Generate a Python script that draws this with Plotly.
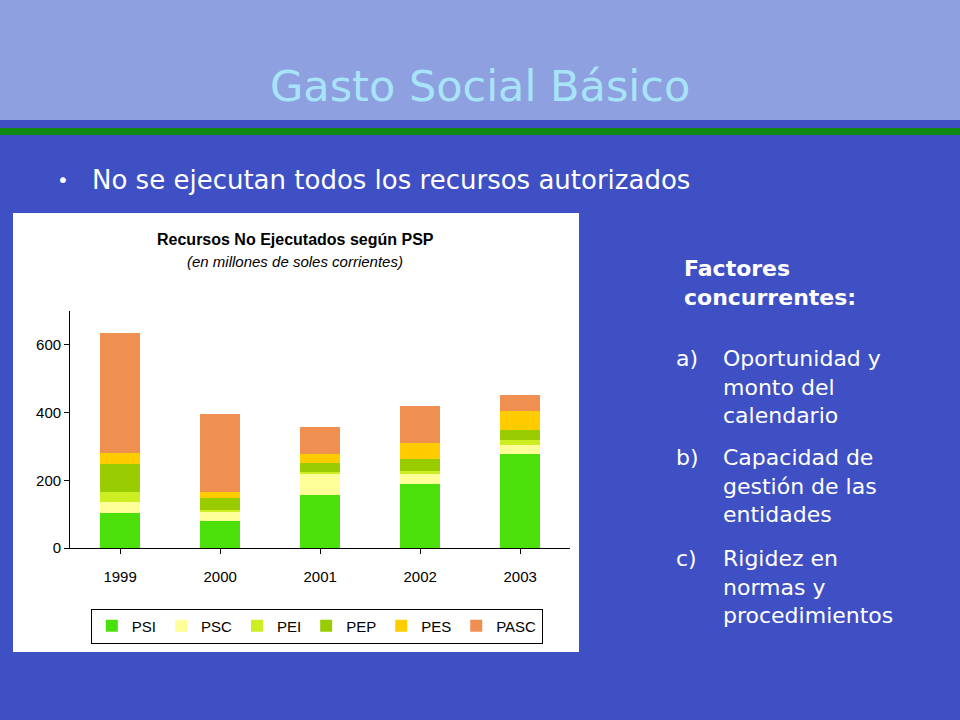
import plotly.graph_objects as go

years = ["1999", "2000", "2001", "2002", "2003"]
psi = [104, 80, 158, 188, 279]
psc = [32, 29, 62, 31, 26]
pei = [30, 2, 4, 8, 15]
pep = [83, 37, 28, 37, 30]
pes = [32, 18, 27, 47, 54]
pasc = [353, 231, 79, 107, 47]

series = [("PSI", psi, "#4ce00a"), ("PSC", psc, "#ffff99"), ("PEI", pei, "#ccee22"),
          ("PEP", pep, "#99cc00"), ("PES", pes, "#ffcc00"), ("PASC", pasc, "#f09050")]

H = 712  # effective page height in the screenshot


def fy(px):
    return 1 - px / H


fig = go.Figure()
for name, vals, col in series:
    fig.add_trace(go.Bar(x=years, y=vals, name=name, marker_color=col,
                         marker_line_width=0, width=0.4))

fig.update_layout(
    width=960, height=720, barmode="stack",
    paper_bgcolor="#3f4fc4", plot_bgcolor="white",
    margin=dict(l=0, r=0, t=0, b=0),
    font=dict(family="Arial, Liberation Sans", color="black", size=14),
    xaxis=dict(domain=[0.073, 0.594], showline=True, linecolor="black",
               ticks="outside", tickcolor="black", ticklen=5, tickfont=dict(size=15),
               ticklabelstandoff=10),
    yaxis=dict(domain=[fy(548), fy(311)], range=[0, 700], tickvals=[0, 200, 400, 600],
               showline=True, linecolor="black", ticks="outside", tickcolor="black",
               ticklen=5, showgrid=False, zeroline=False, tickfont=dict(size=15)),
    legend=dict(orientation="h", x=0.33, xanchor="center", y=fy(626), yanchor="middle",
                bgcolor="white", bordercolor="black", borderwidth=1,
                font=dict(size=15), traceorder="normal", itemwidth=30),
    shapes=[
        dict(type="rect", xref="paper", yref="paper", x0=0, x1=1, y0=fy(120), y1=1,
             fillcolor="#8fa0e0", line_width=0, layer="below"),
        dict(type="rect", xref="paper", yref="paper", x0=0, x1=1, y0=fy(135), y1=fy(128),
             fillcolor="#118811", line_width=0),
        dict(type="rect", xref="paper", yref="paper", x0=13/960, x1=579/960,
             y0=fy(652), y1=fy(213), fillcolor="white", line_width=0, layer="below"),
    ],
)

ann = [
    dict(x=0.5, y=fy(86), text="Gasto Social Básico", font=dict(size=43, color="#a8e4f8")),
    dict(x=90/960, y=fy(180), text="No se ejecutan todos los recursos autorizados",
         xanchor="left", font=dict(size=26, color="white")),
    dict(x=55/960, y=fy(180), text="•", xanchor="left", font=dict(size=20, color="white")),
    dict(x=295/960, y=fy(240), text="<b>Recursos No Ejecutados según PSP</b>",
         font=dict(size=16)),
    dict(x=295/960, y=fy(262), text="<i>(en millones de soles corrientes)</i>",
         font=dict(size=15)),
    dict(x=682/960, y=fy(283), text="<b>Factores<br>concurrentes:</b>", xanchor="left",
         align="left", font=dict(size=22, color="white")),
]
items = [("a)", 362, "Oportunidad y<br>monto del<br>calendario"),
         ("b)", 461, "Capacidad de<br>gestión de las<br>entidades"),
         ("c)", 562, "Rigidez en<br>normas y<br>procedimientos")]
for lab, y, txt in items:
    ann.append(dict(x=674/960, y=fy(y - 18), text=lab, xanchor="left", yanchor="top",
                    font=dict(size=22, color="white")))
    ann.append(dict(x=721/960, y=fy(y - 18), text=txt, xanchor="left", yanchor="top",
                    align="left", font=dict(size=22, color="white")))
for a in ann:
    a.update(xref="paper", yref="paper", showarrow=False)
    a.setdefault("xanchor", "center")
    a.setdefault("yanchor", "middle")
    a["font"].setdefault("family", "Verdana, DejaVu Sans")
fig.update_layout(annotations=ann)
for a in fig.layout.annotations[3:5]:
    a.font.family = "Arial, Liberation Sans"

fig.write_html("out.html", config={"displayModeBar": False},
               post_script="document.body.style.margin='0';")
